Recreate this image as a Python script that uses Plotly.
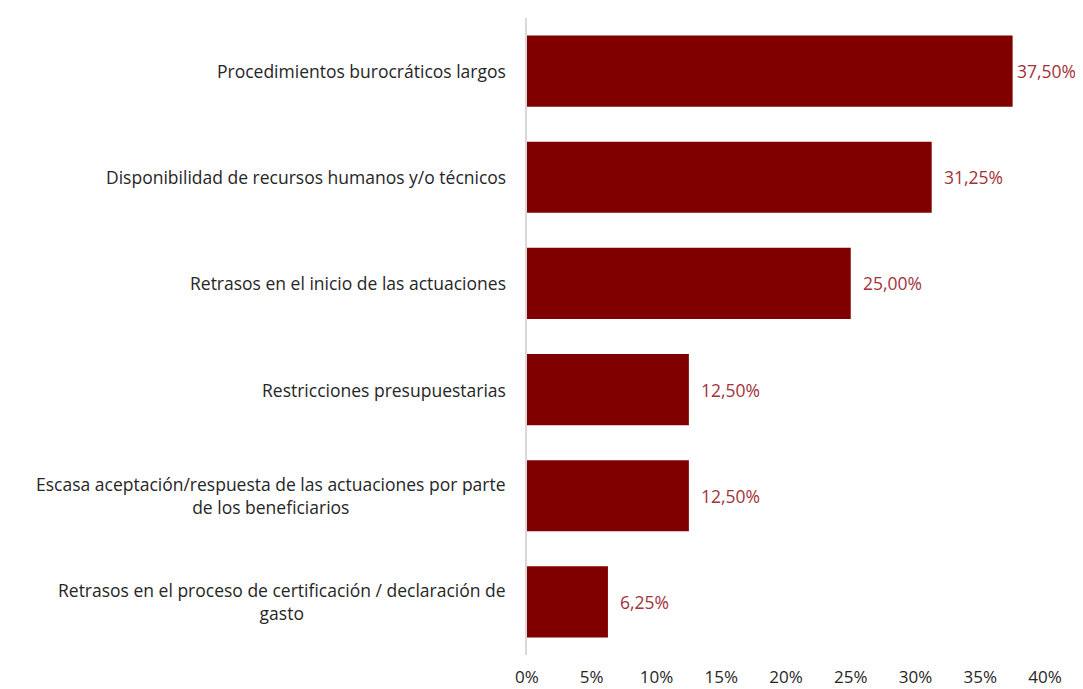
import plotly.graph_objects as go

categories = [
    "Procedimientos burocráticos largos",
    "Disponibilidad de recursos humanos y/o técnicos",
    "Retrasos en el inicio de las actuaciones",
    "Restricciones presupuestarias",
    "Escasa aceptación/respuesta de las actuaciones por parte<br>de los beneficiarios",
    "Retrasos en el proceso de certificación / declaración de<br>gasto",
]
values = [0.375, 0.3125, 0.25, 0.125, 0.125, 0.0625]
tick_vals = [0, 0.05, 0.10, 0.15, 0.20, 0.25, 0.30, 0.35, 0.40]

BAR = "#800000"
LABEL = "#A3323A"
FONT = "'Open Sans', sans-serif"
FS = 17.5

ycats = list(range(len(categories)))

fig = go.Figure()
fig.add_trace(go.Bar(
    x=values, y=ycats, orientation="h",
    marker=dict(color=BAR, line=dict(width=0)),
    hoverinfo="skip",
))

for i, (c, v) in enumerate(zip(categories, values)):
    fig.add_annotation(
        x=0, y=i, xref="paper", yref="y", text=c, showarrow=False,
        xanchor="right", align="center", xshift=-19,
        font=dict(family=FONT, size=FS, color="#262626"),
    )
    fig.add_annotation(
        x=v, y=i, xref="x", yref="y",
        text=f"{v*100:.2f}%".replace(".", ","), showarrow=False,
        xanchor="left", xshift=(2 if v > 0.36 else 10),
        font=dict(family=FONT, size=FS, color=LABEL),
    )

fig.update_layout(
    width=1067, height=681,
    margin=dict(l=519, r=30, t=10, b=34),
    plot_bgcolor="white", paper_bgcolor="white",
    showlegend=False, bargap=0.33,
    separators=",.",
    font=dict(family=FONT, size=FS, color="#262626"),
)
fig.update_xaxes(
    range=[0, 0.40], tickvals=tick_vals, tickformat=".0%",
    showgrid=False, zeroline=False, showline=False,
    ticks="", ticklabelstandoff=10, automargin=False,
    tickfont=dict(family=FONT, size=17, color="#262626"),
)
fig.update_yaxes(
    range=[len(categories) - 0.5, -0.5], showticklabels=False,
    showgrid=False, zeroline=False, showline=True, automargin=False,
    linecolor="#D9D9D9", linewidth=1.5, ticks="",
)

fig.write_html("out.html")
